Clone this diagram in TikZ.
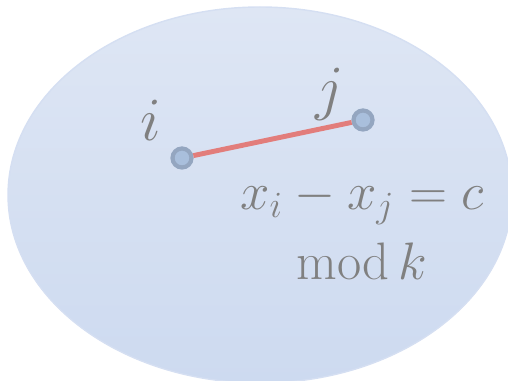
\RequirePackage{fix-cm}
\documentclass[tikz,border=0pt]{standalone}
\usepackage{amsmath}
\usetikzlibrary{positioning}

\begin{document}
\begin{tikzpicture}[
    every node/.style={text=textgray},
    blob/.style={top color=blobtop, bottom color=blobbot, draw=blobmid, line width=0.8pt},
    vert/.style={circle, draw=vertrim, fill=vertfill, line width=2.4pt, minimum size=3.8mm, inner sep=0pt},
    edgeline/.style={draw=edgered, line width=2.8pt},
    vlabel/.style={font=\fontsize{35}{42}\selectfont, inner sep=1pt},
    reltxt/.style={font=\fontsize{30}{40}\selectfont, align=center, inner sep=0pt}
]
  \definecolor{blobtop}{HTML}{DEE6F4}
  \definecolor{blobmid}{HTML}{D5DFF2}
  \definecolor{blobbot}{HTML}{CDDAF0}
  \definecolor{vertrim}{HTML}{94A6C0}
  \definecolor{vertfill}{HTML}{A9BFDC}
  \definecolor{edgered}{HTML}{E27D7B}
  \definecolor{textgray}{HTML}{808080}

  \clip (0,0) rectangle (10.16,7.62);
  \useasboundingbox (0,0) rectangle (10.16,7.62);

  % the region
  \shade[blob] (5.2,3.72) ellipse [x radius=5.04, y radius=3.76];

  % the two vertices and their edge
  \node[vert] (vert-i) at (3.64,4.46) {};
  \node[vert] (vert-j) at (7.26,5.22) {};
  \draw[edgeline] (vert-i) -- (vert-j);

  \node[vlabel] (lab-i) at (3.02,5.22) {$i$};
  \node[vlabel] (lab-j) at (6.6,5.74) {$j$};

  % the constraint
  \node[reltxt, anchor=base] (rel) at (7.24,2.02) {$x_i - x_j = c$\\ $\operatorname{mod} k$};
\end{tikzpicture}
\end{document}
